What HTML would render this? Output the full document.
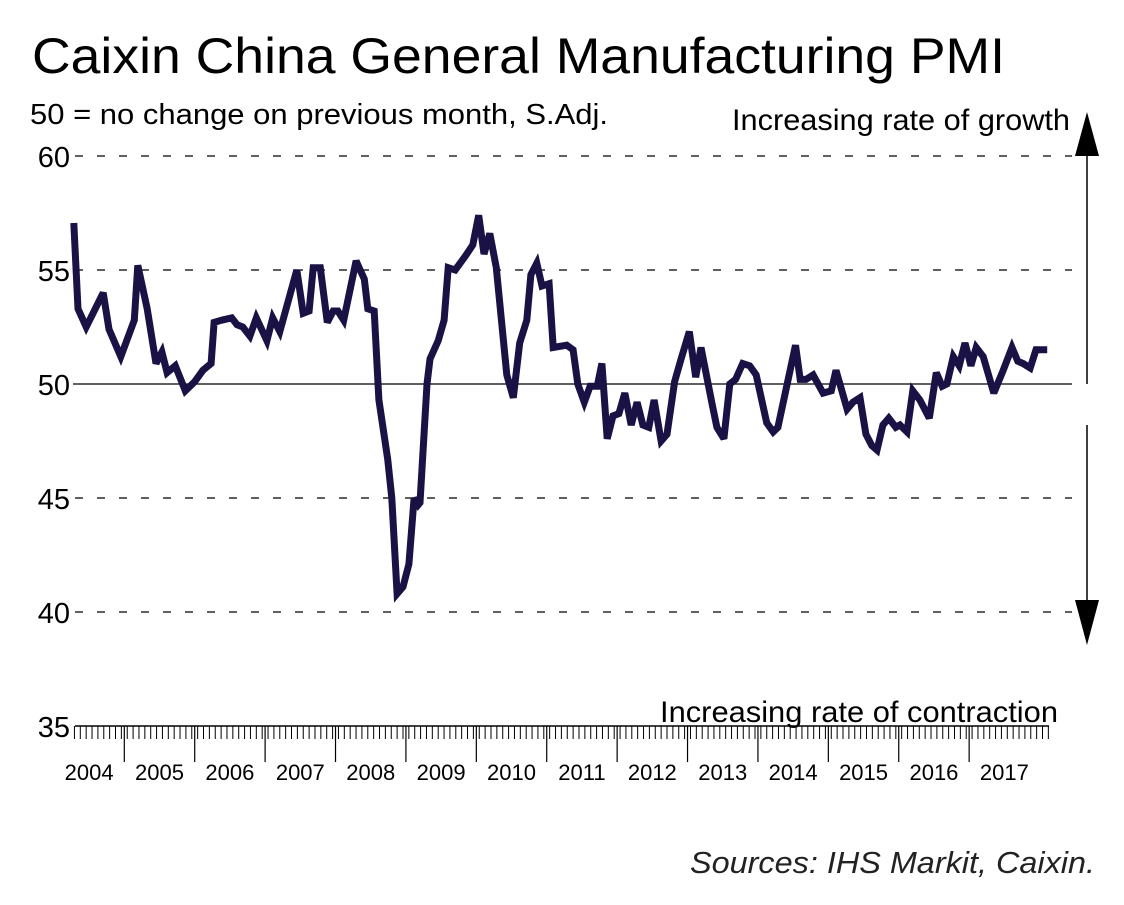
<!DOCTYPE html>
<html><head><meta charset="utf-8"><style>
body{margin:0;background:#fff;}
svg{display:block;font-family:"Liberation Sans",Arial,sans-serif;}
</style></head><body>
<svg id="chart" width="1124" height="905" viewBox="0 0 1124 905">
<text x="32" y="73" font-size="50" textLength="973" lengthAdjust="spacingAndGlyphs" fill="#000">Caixin China General Manufacturing PMI</text>
<text x="30" y="124" font-size="29" textLength="578" lengthAdjust="spacingAndGlyphs" fill="#000">50 = no change on previous month, S.Adj.</text>
<text x="1070" y="130" font-size="30" text-anchor="end" textLength="338" lengthAdjust="spacingAndGlyphs" fill="#000">Increasing rate of growth</text>
<text x="1058" y="722" font-size="30" text-anchor="end" textLength="398" lengthAdjust="spacingAndGlyphs" fill="#000">Increasing rate of contraction</text>
<text x="1095" y="873" font-size="31" font-style="italic" text-anchor="end" textLength="405" lengthAdjust="spacingAndGlyphs" fill="#222">Sources: IHS Markit, Caixin.</text>
<g>
<line x1="1087" y1="150" x2="1087" y2="384" stroke="#000" stroke-width="1.5"/>
<line x1="1087" y1="425" x2="1087" y2="605" stroke="#000" stroke-width="1.5"/>
<polygon points="1087,112 1075,156 1099,156" fill="#000"/>
<polygon points="1087,645 1075,600 1099,600" fill="#000"/>
</g>
<g id="grid"></g><g id="axes"></g><g id="series"></g>
</svg>
<script>
const months=[3.4,4.1,5.5,8.4,9.4,11.4,13.7,14.3,15.9,17.4,18.4,19.3,20.7,22.4,24.0,25.4,26.8,27.3,28.6,30.3,31.2,32.2,33.4,34.5,36.3,37.3,38.5,41.4,42.5,43.5,44.2,45.4,46.6,47.6,48.4,49.4,51.5,52.9,53.5,54.6,55.4,56.9,57.6,58.5,59.5,60.5,61.4,62.1,62.4,63.6,64.1,65.5,66.5,67.2,68.4,70.1,71.4,72.4,73.3,74.3,75.4,77.2,78.3,79.4,80.6,81.3,82.3,83.2,84.4,85.1,87.4,88.5,89.3,90.4,91.4,92.6,93.4,94.3,95.3,96.3,97.3,98.4,99.4,100.4,101.4,102.3,103.5,104.5,105.8,106.9,108.3,109.4,110.3,112.2,113.0,114.2,115.2,116.2,117.4,118.6,119.7,121.5,122.6,123.4,126.4,127.2,128.2,129.4,131.1,132.5,133.3,135.2,136.2,137.4,138.4,139.4,140.3,141.3,142.3,143.5,144.2,145.4,146.4,147.6,149.2,150.4,151.4,152.2,153.3,154.3,155.3,156.3,157.2,158.4,160.2,161.8,163.3,164.3,165.2,166.4,167.4,168.4,169.3];
const pmi=[57.06,53.3,52.5,54.0,52.4,51.2,52.8,55.2,53.3,50.9,51.4,50.5,50.8,49.7,50.1,50.6,50.9,52.7,52.8,52.9,52.6,52.5,52.1,52.9,51.9,52.9,52.3,55.0,53.1,53.2,55.1,55.1,52.7,53.2,53.2,52.8,55.4,54.6,53.3,53.2,49.3,46.7,45.0,40.8,41.1,42.1,45.0,44.7,44.8,50.0,51.1,51.9,52.8,55.1,55.0,55.6,56.1,57.4,55.7,56.6,55.1,50.4,49.4,51.8,52.8,54.8,55.3,54.3,54.4,51.6,51.7,51.5,50.0,49.2,49.9,49.9,50.9,47.6,48.6,48.7,49.6,48.2,49.2,48.2,48.1,49.3,47.5,47.8,50.1,51.1,52.3,50.3,51.6,49.1,48.1,47.6,50.0,50.2,50.9,50.8,50.4,48.3,47.9,48.1,51.7,50.2,50.2,50.4,49.6,49.7,50.6,48.9,49.2,49.4,47.8,47.3,47.1,48.2,48.5,48.1,48.2,47.9,49.7,49.3,48.5,50.5,49.9,50.0,51.2,50.8,51.8,50.8,51.6,51.2,49.6,50.6,51.6,51.0,50.9,50.7,51.5,51.5,51.5];
const yTicks=[60,55,50,45,40,35];
const years=[2004,2005,2006,2007,2008,2009,2010,2011,2012,2013,2014,2015,2016,2017];
const NS="http://www.w3.org/2000/svg";
const x=m=>53.9+m*5.867;
const y=v=>384-(v-50)*22.8;
function mk(tag,attrs,parent){const e=document.createElementNS(NS,tag);for(const k in attrs)e.setAttribute(k,attrs[k]);parent.appendChild(e);return e;}
const grid=document.getElementById('grid'),axes=document.getElementById('axes'),series=document.getElementById('series');
yTicks.forEach(v=>{
  const t=mk('text',{x:70,y:y(v)+11,'font-size':29,'text-anchor':'end',fill:'#000'},axes);
  t.textContent=v;
  
  
  if(v===35)return;
  const l=mk('line',{x1:v===50?73:75,x2:1072,y1:y(v),y2:y(v),stroke:'#000','stroke-width':v===50?1.3:1.2,'stroke-dasharray':v===50?'none':'8 14'},grid);
  
  
});
const ax=mk('line',{x1:75,x2:1049,y1:y(35),y2:y(35),stroke:'#000','stroke-width':1.5},axes);


for(let m=3.5;m<=170;m+=1){
  const t=mk('line',{x1:x(m),x2:x(m),y1:y(35),y2:y(35)+13,stroke:'#000','stroke-width':1},axes);
  
  
}
years.forEach((yr,i)=>{
  const b=x((i+1)*12);
  if(i<years.length-1){
    const t=mk('line',{x1:b,x2:b,y1:y(35),y2:y(35)+36,stroke:'#000','stroke-width':1.2},axes);
    
    
  }
  const lb=mk('text',{x:x(i*12+6)+(i===0?0:0),y:780,'font-size':22,'text-anchor':'middle',fill:'#000'},axes);
  lb.textContent=yr;
  
  
});
const d=months.map((m,i)=>(i?'L':'M')+x(m).toFixed(1)+','+y(pmi[i]).toFixed(1)).join(' ');
const p=mk('path',{d:d,fill:'none',stroke:'#1a1245','stroke-width':7,'stroke-linejoin':'miter','stroke-miterlimit':3},series);


</script>
</body></html>
